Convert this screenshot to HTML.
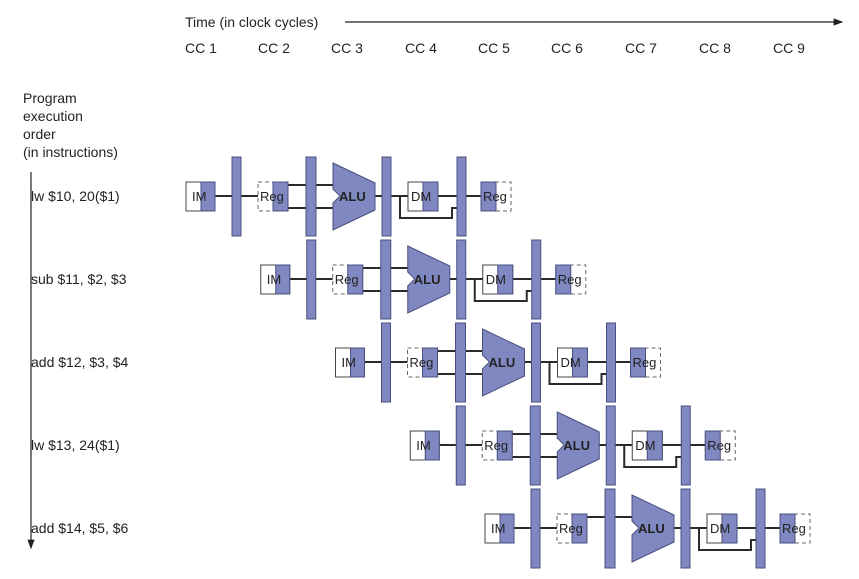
<!DOCTYPE html>
<html><head><meta charset="utf-8"><style>
html,body{margin:0;padding:0;background:#fff;}
svg{display:block;font-family:"Liberation Sans",sans-serif;}
.b{fill:#8088c2;stroke:#4a4f80;stroke-width:1}
.w{stroke:#2a2a2a;stroke-width:2;fill:none}
.t{font-size:13px;fill:#222}
.l{font-size:14px;fill:#222}
</style></head><body>
<svg width="859" height="579" viewBox="0 0 859 579">
<defs><marker id="ah" markerWidth="8" markerHeight="8" refX="7" refY="4" orient="auto"><path d="M0,1 L8,4 L0,7 Z" fill="#222"/></marker></defs>
<text x="185" y="27" class="l">Time (in clock cycles)</text>
<line x1="345" y1="22" x2="842" y2="22" stroke="#222" stroke-width="1.2" marker-end="url(#ah)"/>
<g class="l">
<text x="185" y="53">CC 1</text><text x="258" y="53">CC 2</text><text x="331" y="53">CC 3</text><text x="405" y="53">CC 4</text><text x="478" y="53">CC 5</text><text x="551" y="53">CC 6</text><text x="625" y="53">CC 7</text><text x="699" y="53">CC 8</text><text x="773" y="53">CC 9</text>
<text x="23" y="103">Program</text><text x="23" y="121">execution</text><text x="23" y="139">order</text><text x="23" y="157">(in instructions)</text>
<text x="31" y="201">lw $10, 20($1)</text>
<text x="31" y="284">sub $11, $2, $3</text>
<text x="31" y="367">add $12, $3, $4</text>
<text x="31" y="450">lw $13, 24($1)</text>
<text x="31" y="533">add $14, $5, $6</text>
</g>
<line x1="31" y1="172" x2="31" y2="548" stroke="#222" stroke-width="1.2" marker-end="url(#ah)"/>

<g id="r0" transform="translate(0,0)">
<path class="w" d="M215,196H258 M288,185H333 M288,208H333 M375,196H408 M400,196V218H452V208H457 M438,196H481"/>
<rect x="186" y="182" width="29" height="29" fill="#fff" stroke="#444"/><rect x="201" y="182" width="14" height="29" class="b"/>
<rect x="258" y="182" width="30" height="29" fill="#fff" stroke="#666" stroke-dasharray="4,3"/><rect x="273" y="182" width="15" height="29" class="b"/>
<rect x="408" y="182" width="30" height="29" fill="#fff" stroke="#444"/><rect x="423" y="182" width="15" height="29" class="b"/>
<rect x="481" y="182" width="30" height="29" fill="#fff" stroke="#666" stroke-dasharray="4,3"/><rect x="481" y="182" width="15" height="29" class="b"/>
<polygon class="b" points="333,163 375,183 375,210 333,230 333,203 340,196 333,189"/>
<rect x="232" y="157" width="9" height="79" class="b"/><rect x="306" y="157" width="10" height="79" class="b"/><rect x="382" y="157" width="9" height="79" class="b"/><rect x="457" y="157" width="9" height="79" class="b"/>
<g class="t"><text x="192" y="201">IM</text><text x="260" y="201">Reg</text><text x="339" y="201" font-weight="bold">ALU</text><text x="411" y="201">DM</text><text x="483" y="201">Reg</text></g>
</g>

<g transform="translate(74.75,83)">
<path class="w" d="M215,196H258 M288,185H333 M288,208H333 M375,196H408 M400,196V218H452V208H457 M438,196H481"/>
<rect x="186" y="182" width="29" height="29" fill="#fff" stroke="#444"/><rect x="201" y="182" width="14" height="29" class="b"/>
<rect x="258" y="182" width="30" height="29" fill="#fff" stroke="#666" stroke-dasharray="4,3"/><rect x="273" y="182" width="15" height="29" class="b"/>
<rect x="408" y="182" width="30" height="29" fill="#fff" stroke="#444"/><rect x="423" y="182" width="15" height="29" class="b"/>
<rect x="481" y="182" width="30" height="29" fill="#fff" stroke="#666" stroke-dasharray="4,3"/><rect x="481" y="182" width="15" height="29" class="b"/>
<polygon class="b" points="333,163 375,183 375,210 333,230 333,203 340,196 333,189"/>
<rect x="232" y="157" width="9" height="79" class="b"/><rect x="306" y="157" width="10" height="79" class="b"/><rect x="382" y="157" width="9" height="79" class="b"/><rect x="457" y="157" width="9" height="79" class="b"/>
<g class="t"><text x="192" y="201">IM</text><text x="260" y="201">Reg</text><text x="339" y="201" font-weight="bold">ALU</text><text x="411" y="201">DM</text><text x="483" y="201">Reg</text></g>
</g>

<g transform="translate(149.5,166)">
<path class="w" d="M215,196H258 M288,185H333 M288,208H333 M375,196H408 M400,196V218H452V208H457 M438,196H481"/>
<rect x="186" y="182" width="29" height="29" fill="#fff" stroke="#444"/><rect x="201" y="182" width="14" height="29" class="b"/>
<rect x="258" y="182" width="30" height="29" fill="#fff" stroke="#666" stroke-dasharray="4,3"/><rect x="273" y="182" width="15" height="29" class="b"/>
<rect x="408" y="182" width="30" height="29" fill="#fff" stroke="#444"/><rect x="423" y="182" width="15" height="29" class="b"/>
<rect x="481" y="182" width="30" height="29" fill="#fff" stroke="#666" stroke-dasharray="4,3"/><rect x="481" y="182" width="15" height="29" class="b"/>
<polygon class="b" points="333,163 375,183 375,210 333,230 333,203 340,196 333,189"/>
<rect x="232" y="157" width="9" height="79" class="b"/><rect x="306" y="157" width="10" height="79" class="b"/><rect x="382" y="157" width="9" height="79" class="b"/><rect x="457" y="157" width="9" height="79" class="b"/>
<g class="t"><text x="192" y="201">IM</text><text x="260" y="201">Reg</text><text x="339" y="201" font-weight="bold">ALU</text><text x="411" y="201">DM</text><text x="483" y="201">Reg</text></g>
</g>

<g transform="translate(224.25,249)">
<path class="w" d="M215,196H258 M288,185H333 M288,208H333 M375,196H408 M400,196V218H452V208H457 M438,196H481"/>
<rect x="186" y="182" width="29" height="29" fill="#fff" stroke="#444"/><rect x="201" y="182" width="14" height="29" class="b"/>
<rect x="258" y="182" width="30" height="29" fill="#fff" stroke="#666" stroke-dasharray="4,3"/><rect x="273" y="182" width="15" height="29" class="b"/>
<rect x="408" y="182" width="30" height="29" fill="#fff" stroke="#444"/><rect x="423" y="182" width="15" height="29" class="b"/>
<rect x="481" y="182" width="30" height="29" fill="#fff" stroke="#666" stroke-dasharray="4,3"/><rect x="481" y="182" width="15" height="29" class="b"/>
<polygon class="b" points="333,163 375,183 375,210 333,230 333,203 340,196 333,189"/>
<rect x="232" y="157" width="9" height="79" class="b"/><rect x="306" y="157" width="10" height="79" class="b"/><rect x="382" y="157" width="9" height="79" class="b"/><rect x="457" y="157" width="9" height="79" class="b"/>
<g class="t"><text x="192" y="201">IM</text><text x="260" y="201">Reg</text><text x="339" y="201" font-weight="bold">ALU</text><text x="411" y="201">DM</text><text x="483" y="201">Reg</text></g>
</g>

<g transform="translate(299,332)">
<path class="w" d="M215,196H258 M288,185H333 M375,196H408 M400,196V218H452V208H457 M438,196H481"/>
<rect x="186" y="182" width="29" height="29" fill="#fff" stroke="#444"/><rect x="201" y="182" width="14" height="29" class="b"/>
<rect x="258" y="182" width="30" height="29" fill="#fff" stroke="#666" stroke-dasharray="4,3"/><rect x="273" y="182" width="15" height="29" class="b"/>
<rect x="408" y="182" width="30" height="29" fill="#fff" stroke="#444"/><rect x="423" y="182" width="15" height="29" class="b"/>
<rect x="481" y="182" width="30" height="29" fill="#fff" stroke="#666" stroke-dasharray="4,3"/><rect x="481" y="182" width="15" height="29" class="b"/>
<polygon class="b" points="333,163 375,183 375,210 333,230 333,203 340,196 333,189"/>
<rect x="232" y="157" width="9" height="79" class="b"/><rect x="306" y="157" width="10" height="79" class="b"/><rect x="382" y="157" width="9" height="79" class="b"/><rect x="457" y="157" width="9" height="79" class="b"/>
<g class="t"><text x="192" y="201">IM</text><text x="260" y="201">Reg</text><text x="339" y="201" font-weight="bold">ALU</text><text x="411" y="201">DM</text><text x="483" y="201">Reg</text></g>
</g>
</svg>
</body></html>
